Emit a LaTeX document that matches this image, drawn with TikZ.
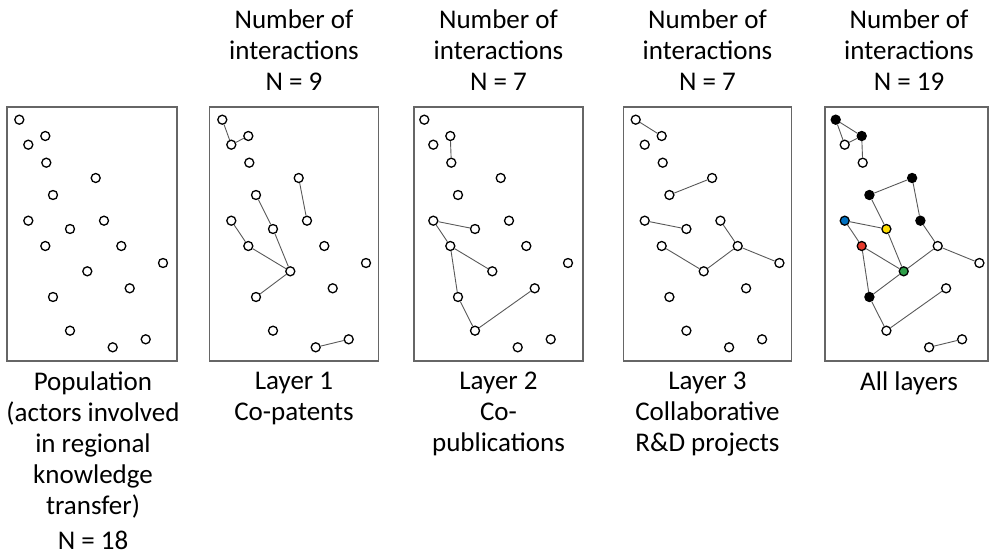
\documentclass[tikz,border=0pt]{standalone}
\usepackage{fontspec}
\setmainfont{Carlito}
\usepackage{tikz}

\definecolor{actorblue}{RGB}{0,112,192}
\definecolor{actoryellow}{RGB}{255,222,0}
\definecolor{actorred}{RGB}{229,57,43}
\definecolor{actorgreen}{RGB}{46,158,72}

\tikzset{
	actor/.style={circle, draw=black, line width=1.3pt, fill=white, minimum size=9pt, inner sep=0pt},
	tie/.style={draw=black!65, line width=0.9pt},
	panel/.style={draw=black!60, line width=1.2pt},
	caption/.style={align=center, font=\fontsize{27}{31}\selectfont, inner sep=0pt, anchor=north}
}

% actor number / x offset / y / colour in the last panel
\newcommand{\actorlist}{1/0/119.7/black, 2/26/136/black, 3/9/144.7/white,
	4/27/162.7/white, 5/76.4/178/black, 6/33.7/195/black, 7/9/220.7/actorblue,
	8/84.7/220.7/black, 9/50.7/229/actoryellow, 10/26/246/actorred,
	11/102/246/white, 12/143.7/263/white, 13/68/271.3/actorgreen,
	14/110.4/288.3/white, 15/33.7/297/black, 16/50.7/330.7/white,
	17/126.4/339.3/white, 18/93.4/347.3/white}

\begin{document}
\begin{tikzpicture}[x=1pt,y=-1pt]
	\useasboundingbox (0,0) rectangle (990,559);

	% Frames of the five panels
	\draw[panel] (7,107) rectangle (177,361);
	\draw[panel] (209.3,107) rectangle (378.7,361);
	\draw[panel] (414,107) rectangle (583,361);
	\draw[panel] (623.3,107) rectangle (791.7,361);
	\draw[panel] (825,107) rectangle (988,361);

	% Actors, same places in every panel
	\foreach \p/\ox in {1/19.3, 2/222.3, 3/424.3, 4/635.7}
		\foreach \i/\dx/\y/\c in \actorlist
			\node[actor] (p\p-\i) at (\ox+\dx,\y) {};
	\foreach \i/\dx/\y/\c in \actorlist
		\node[actor, fill=\c] (p5-\i) at (835.7+\dx,\y) {};

	% Layer 1: co-patents
	\foreach \a/\b in {1/3, 3/2, 5/8, 6/9, 9/13, 7/10, 10/13, 13/15, 18/17}
		\draw[tie] (p2-\a) -- (p2-\b);
	% Layer 2: co-publications
	\foreach \a/\b in {2/4, 7/9, 7/10, 10/13, 10/15, 15/16, 16/14}
		\draw[tie] (p3-\a) -- (p3-\b);
	% Layer 3: R&D projects
	\foreach \a/\b in {1/2, 6/5, 7/9, 10/13, 13/11, 8/11, 11/12}
		\draw[tie] (p4-\a) -- (p4-\b);
	% All layers together
	\foreach \a/\b in {1/3, 3/2, 1/2, 2/4, 5/8, 6/5, 6/9, 9/13, 7/10, 7/9, 10/13,
			13/15, 10/15, 15/16, 16/14, 13/11, 8/11, 11/12, 18/17}
		\draw[tie] (p5-\a) -- (p5-\b);

	% Headings
	\node[caption] (head2) at (294,10) {Number of\\interactions\\N = 9};
	\node[caption] (head3) at (498.5,10) {Number of\\interactions\\N = 7};
	\node[caption] (head4) at (707.5,10) {Number of\\interactions\\N = 7};
	\node[caption] (head5) at (909,10) {Number of\\interactions\\N = 19};

	% Captions below the panels
	\node[caption] (pop) at (93,372) {Population\\(actors involved\\in regional\\knowledge\\transfer)\\[4pt]N = 18};
	\node[caption] (lay1) at (294,372) {Layer 1\\Co-patents};
	\node[caption] (lay2) at (498.5,372) {Layer 2\\Co-\\publications};
	\node[caption] (lay3) at (707.5,372) {Layer 3\\Collaborative\\R\&D projects};
	\node[caption] (all) at (909,372) {All layers};
\end{tikzpicture}
\end{document}
